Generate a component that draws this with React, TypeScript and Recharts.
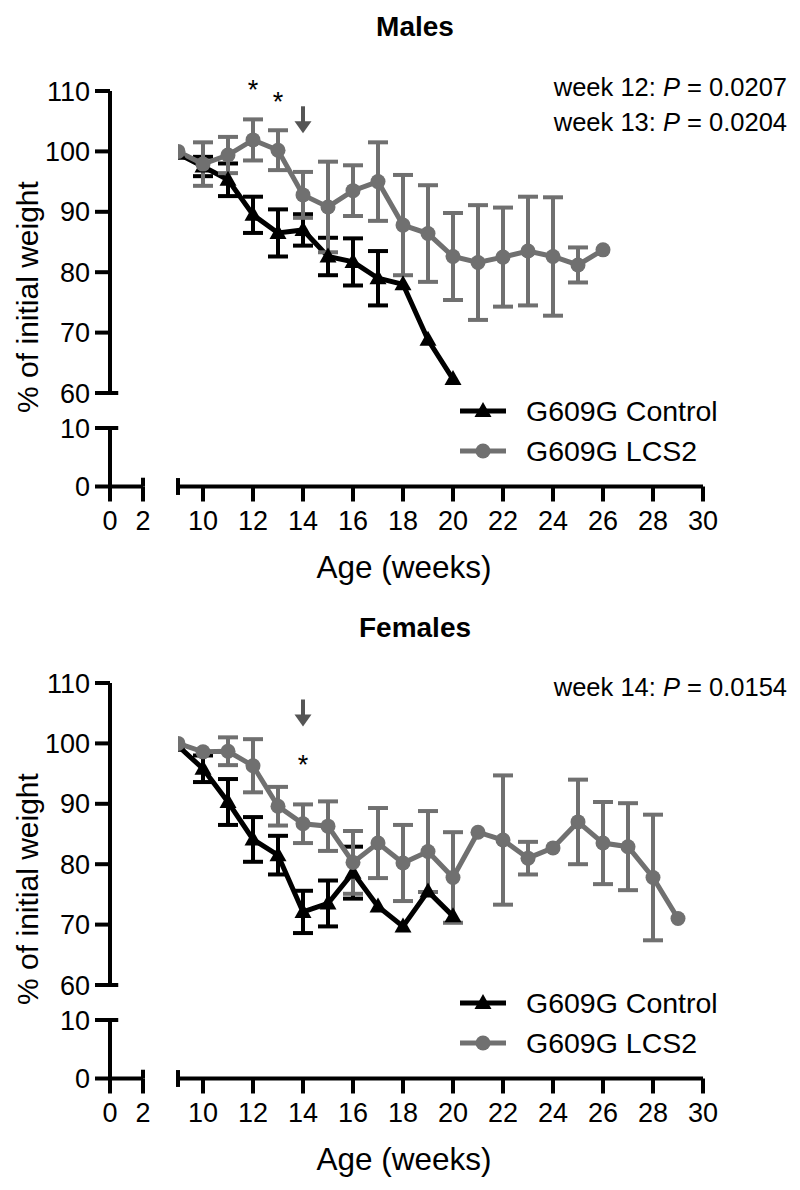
import React from "react";
import {
  ComposedChart,
  LineChart,
  Line,
  XAxis,
  YAxis,
  ErrorBar,
  ReferenceLine,
  ReferenceDot,
  Legend,
} from "recharts";

const FONT = "'Liberation Sans', Arial, Helvetica, sans-serif";
const GREY = "#707070";
const ARROW = "#555555";

// tick labels
const mainTicks = [10, 12, 14, 16, 18, 20, 22, 24, 26, 28, 30];
const upperYTicks = [60, 70, 80, 90, 100, 110];
const lowerYTicks = [0, 10];
const leftXTicks = [0, 2];

// Males
const maleWeeks = [9, 10, 11, 12, 13, 14, 15, 16, 17, 18, 19, 20, 21, 22, 23, 24, 25, 26];
const maleCtrl = [99.6, 97.5, 95.3, 89.5, 86.5, 87.0, 82.6, 81.7, 79.0, 78.0, 68.8, 62.3];
const maleCtrlErr = [0, 1.6, 2.7, 3.0, 3.9, 2.6, 3.1, 3.9, 4.5, 0, 0, 0];
const maleLcs = [100, 97.9, 99.4, 101.9, 100.2, 92.8, 90.8, 93.5, 95.0, 87.8, 86.4, 82.6, 81.6, 82.5, 83.5, 82.6, 81.2, 83.7];
const maleLcsErr = [0, 3.6, 3.0, 3.4, 3.3, 3.8, 7.5, 4.2, 6.5, 8.3, 8.0, 7.2, 9.5, 8.2, 9.0, 9.8, 2.9, 0];

// Females
const femWeeks = [9, 10, 11, 12, 13, 14, 15, 16, 17, 18, 19, 20, 21, 22, 23, 24, 25, 26, 27, 28, 29];
const femCtrl = [99.6, 95.8, 90.3, 84.1, 81.5, 72.1, 73.5, 78.6, 73.0, 69.7, 75.5, 71.4];
const femCtrlErr = [0, 2.2, 3.8, 3.7, 3.2, 3.5, 3.8, 4.3, 0, 0, 0, 0];
const femLcs = [100, 98.6, 98.7, 96.3, 89.6, 86.7, 86.3, 80.3, 83.5, 80.2, 82.1, 77.8, 85.3, 84.0, 81.0, 82.7, 87.0, 83.5, 82.9, 77.8, 71.0];
const femLcsErr = [0, 0, 2.3, 4.4, 3.2, 3.2, 4.1, 5.2, 5.8, 6.3, 6.7, 7.5, 0, 10.7, 2.7, 0, 7.0, 6.8, 7.2, 10.4, 0];

const seriesNames = ["G609G Control", "G609G LCS2"];

// value at the bottom of the main plot (where the x axis sits)
const Y_BOTTOM = 44.52;

const buildRows = (weeks: number[], ctrl: number[], ctrlErr: number[], lcs: number[], lcsErr: number[]) =>
  weeks.map((week, i) => ({
    week,
    ctrl: ctrl[i],
    ctrlErr: ctrlErr[i],
    lcs: lcs[i],
    lcsErr: lcsErr[i],
  }));

const Triangle = (props: any) => {
  const { cx, cy } = props;
  if (cx == null || cy == null || isNaN(cy)) return <g key={props.index} />;
  return (
    <path
      key={props.index}
      d={`M${cx},${cy - 9} L${cx + 8.5},${cy + 6} L${cx - 8.5},${cy + 6} Z`}
      fill="#000"
    />
  );
};

const ArrowDown = (props: any) => {
  const { cx, cy } = props;
  return (
    <g>
      <line x1={cx} x2={cx} y1={cy - 27} y2={cy - 10} stroke={ARROW} strokeWidth={4} />
      <path d={`M${cx - 8.5},${cy - 12} L${cx + 8.5},${cy - 12} L${cx},${cy} Z`} fill={ARROW} />
    </g>
  );
};

const LegendBox = () => (
  <div style={{ fontFamily: FONT }}>
    {seriesNames.map((name, i) => (
      <div key={name} style={{ display: "flex", alignItems: "center", height: 40 }}>
        <svg width={50} height={20}>
          <line x1={2} x2={48} y1={10} y2={10} stroke={i === 0 ? "#000" : GREY} strokeWidth={5} />
          {i === 0 ? (
            <path d="M25,1 L33.5,16 L16.5,16 Z" fill="#000" />
          ) : (
            <circle cx={25} cy={10} r={7.5} fill={GREY} />
          )}
        </svg>
        <span style={{ marginLeft: 18, fontSize: 28.5, color: "#000", lineHeight: "40px" }}>{name}</span>
      </div>
    ))}
  </div>
);

const axisStyle = { stroke: "#000", strokeWidth: 4 };
const tickStyle = { fill: "#000", fontSize: 27, fontFamily: FONT };

type PanelProps = {
  top: number;
  title: string;
  titleY: number;
  rows: any[];
  stars: { week: number; y: number }[];
  arrowWeek: number;
  arrowY: number;
  pvals: { week: string; p: string; y: number }[];
};

const Panel = ({ top, title, titleY, rows, stars, arrowWeek, arrowY, pvals }: PanelProps) => (
  <div style={{ position: "absolute", left: 0, top, width: 800, height: 600, fontFamily: FONT }}>
    {/* upper y segment 60-110 */}
    <div style={{ position: "absolute", left: 0, top: 0 }}>
      <LineChart width={150} height={420} data={rows} margin={{ top: 91, right: 7, bottom: 27, left: 0 }}>
        <XAxis hide type="number" dataKey="week" domain={[0, 2]} allowDataOverflow />
        <YAxis
          type="number"
          domain={[60, 110]}
          ticks={upperYTicks}
          interval={0}
          width={110}
          tickSize={15}
          tickMargin={5}
          axisLine={axisStyle}
          tickLine={axisStyle}
          tick={tickStyle}
          allowDataOverflow
        />
        <ReferenceLine segment={[{ x: 0, y: 60 }, { x: 0.5, y: 60 }]} stroke="#000" strokeWidth={4} ifOverflow="visible" />
      </LineChart>
    </div>

    {/* lower y segment 0-10 and x segment 0-2 */}
    <div style={{ position: "absolute", left: 0, top: 0 }}>
      <LineChart width={160} height={540} data={rows} margin={{ top: 428, right: 17, bottom: 13.5, left: 0 }}>
        <XAxis
          type="number"
          dataKey="week"
          domain={[0, 2]}
          ticks={leftXTicks}
          interval={0}
          height={40}
          tickSize={15}
          tickMargin={9}
          axisLine={axisStyle}
          tickLine={axisStyle}
          tick={tickStyle}
          allowDataOverflow
        />
        <YAxis
          type="number"
          domain={[0, 10]}
          ticks={lowerYTicks}
          interval={0}
          width={110}
          tickSize={15}
          tickMargin={5}
          axisLine={axisStyle}
          tickLine={axisStyle}
          tick={tickStyle}
          allowDataOverflow
        />
        <ReferenceLine segment={[{ x: 0, y: 10 }, { x: 0.5, y: 10 }]} stroke="#000" strokeWidth={4} ifOverflow="visible" />
        <ReferenceLine segment={[{ x: 2, y: 0 }, { x: 2, y: 1.5 }]} stroke="#000" strokeWidth={4} ifOverflow="visible" />
      </LineChart>
    </div>

    {/* main plot */}
    <div style={{ position: "absolute", left: 0, top: 0 }}>
      <ComposedChart width={800} height={600} data={rows} margin={{ top: 91, right: 97, bottom: 73.5, left: 178 }}>
        <XAxis
          type="number"
          dataKey="week"
          domain={[9, 30]}
          ticks={mainTicks}
          interval={0}
          height={40}
          tickSize={15}
          tickMargin={9}
          axisLine={axisStyle}
          tickLine={axisStyle}
          tick={tickStyle}
          allowDataOverflow
        />
        <YAxis hide type="number" domain={[Y_BOTTOM, 110]} allowDataOverflow />
        <ReferenceLine
          segment={[{ x: 9, y: Y_BOTTOM - 1.4 }, { x: 9, y: Y_BOTTOM + 1.4 }]}
          stroke="#000"
          strokeWidth={4}
          ifOverflow="visible"
        />
        <Line
          dataKey="ctrl"
          stroke="#000"
          strokeWidth={5}
          dot={(p: any) => <Triangle key={p.index} {...p} />}
          isAnimationActive={false}
        >
          <ErrorBar dataKey="ctrlErr" direction="y" width={10} strokeWidth={4} stroke="#000" isAnimationActive={false} />
        </Line>
        <Line
          dataKey="lcs"
          stroke={GREY}
          strokeWidth={5}
          dot={{ r: 7.5, fill: GREY, stroke: GREY, strokeWidth: 0 }}
          isAnimationActive={false}
        >
          <ErrorBar dataKey="lcsErr" direction="y" width={10} strokeWidth={4} stroke={GREY} isAnimationActive={false} />
        </Line>
        {stars.map((s) => (
          <ReferenceDot
            key={s.week}
            x={s.week}
            y={s.y}
            r={0}
            ifOverflow="visible"
            label={{ value: "*", position: "center", fill: "#000", fontSize: 27, fontFamily: FONT }}
          />
        ))}
        <ReferenceDot x={arrowWeek} y={arrowY} r={1} ifOverflow="visible" shape={(p: any) => <ArrowDown {...p} />} />
        <Legend
          layout="vertical"
          align="center"
          verticalAlign="middle"
          content={() => <LegendBox />}
          wrapperStyle={{ left: 458, top: 391, width: 320 }}
        />
      </ComposedChart>
    </div>

    {/* texts */}
    <div
      style={{
        position: "absolute",
        left: 415,
        top: titleY,
        transform: "translate(-50%, -50%)",
        fontWeight: "bold",
        fontSize: 28,
        whiteSpace: "nowrap",
      }}
    >
      {title}
    </div>
    <div
      style={{
        position: "absolute",
        left: 28,
        top: 297,
        transform: "translate(-50%, -50%) rotate(-90deg)",
        fontSize: 30,
        whiteSpace: "nowrap",
      }}
    >
      % of initial weight
    </div>
    <div
      style={{
        position: "absolute",
        left: 404,
        top: 567,
        transform: "translate(-50%, -50%)",
        fontSize: 31.5,
        whiteSpace: "nowrap",
      }}
    >
      Age (weeks)
    </div>
    {pvals.map((pv) => (
      <div
        key={pv.week}
        style={{
          position: "absolute",
          right: 13,
          top: pv.y,
          transform: "translateY(-50%)",
          fontSize: 25.5,
          whiteSpace: "nowrap",
        }}
      >
        {pv.week}: <i>P</i> = {pv.p}
      </div>
    ))}
  </div>
);

export default function App() {
  const maleRows = buildRows(maleWeeks, maleCtrl, maleCtrlErr, maleLcs, maleLcsErr);
  const femRows = buildRows(femWeeks, femCtrl, femCtrlErr, femLcs, femLcsErr);
  return (
    <div style={{ position: "absolute", left: 0, top: 0, width: 800, height: 1190, background: "#fff" }}>
      <Panel
        top={0}
        title="Males"
        titleY={27}
        rows={maleRows}
        stars={[
          { week: 12, y: 110.3 },
          { week: 13, y: 108.3 },
        ]}
        arrowWeek={14}
        arrowY={103}
        pvals={[
          { week: "week 12", p: "0.0207", y: 87 },
          { week: "week 13", p: "0.0204", y: 122 },
        ]}
      />
      <Panel
        top={592}
        title="Females"
        titleY={36}
        rows={femRows}
        stars={[{ week: 14, y: 96.6 }]}
        arrowWeek={14}
        arrowY={102.8}
        pvals={[{ week: "week 14", p: "0.0154", y: 95 }]}
      />
    </div>
  );
}
